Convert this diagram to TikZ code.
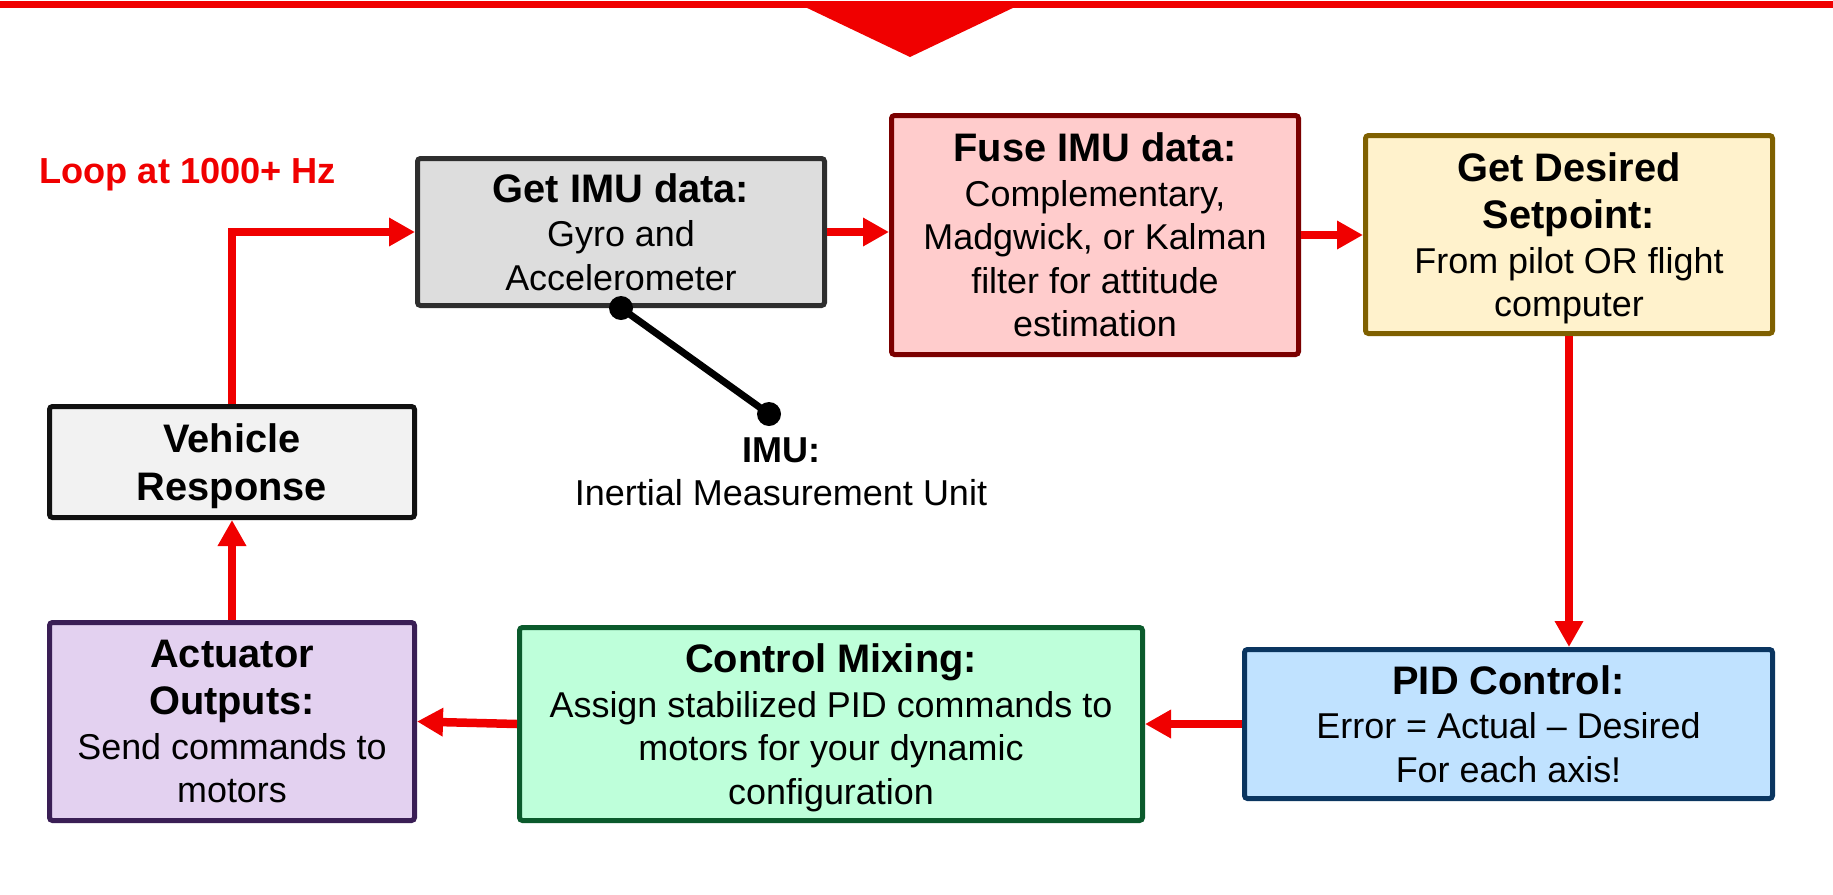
\documentclass[tikz,border=0pt]{standalone}
\usepackage{fontspec}
\setmainfont{Liberation Sans}
\usetikzlibrary{arrows.meta}
\definecolor{arrowred}{RGB}{240,0,0}
\definecolor{imufill}{RGB}{221,221,221}
\definecolor{imudraw}{RGB}{46,46,46}
\definecolor{fusefill}{RGB}{255,204,204}
\definecolor{fusedraw}{RGB}{123,0,0}
\definecolor{setfill}{RGB}{255,242,204}
\definecolor{setdraw}{RGB}{127,96,0}
\definecolor{pidfill}{RGB}{192,226,255}
\definecolor{piddraw}{RGB}{10,53,96}
\definecolor{mixfill}{RGB}{190,255,218}
\definecolor{mixdraw}{RGB}{11,90,44}
\definecolor{actfill}{RGB}{227,209,240}
\definecolor{actdraw}{RGB}{58,30,85}
\definecolor{vehfill}{RGB}{242,242,242}
\definecolor{vehdraw}{RGB}{17,17,17}
\newcommand\boxtitle{\fontsize{19.9}{24}\selectfont\bfseries}
\begin{document}
\begin{tikzpicture}[x=0.5pt,y=-0.5pt,
  flowbox/.style={draw, line width=2.5pt, rounded corners=1.5pt, align=center,
    text depth=0pt, inner sep=0pt, font=\fontsize{17.95}{21.75}\selectfont},
  redarrow/.style={draw=arrowred, line width=4.25pt, -{Triangle[length=13pt,width=13.5pt]}},
  pindot/.style={circle, fill=black, minimum size=12pt, inner sep=0pt}]
\useasboundingbox (0,0) rectangle (1833,895);
% top banner
\fill[arrowred] (0,0.5) rectangle (1833,7.5);
\fill[arrowred] (803,6) -- (1017,6) -- (910,57) -- cycle;
% boxes
\node[flowbox, fill=imufill, draw=imudraw, minimum width=203.5pt, minimum height=73.5pt] (imu) at (621,232)
  {{\boxtitle Get IMU data:}\\[0.5pt]Gyro and\\Accelerometer};
\node[flowbox, fill=fusefill, draw=fusedraw, minimum width=203.5pt, minimum height=119.5pt] (fuse) at (1095,235)
  {{\boxtitle Fuse IMU data:}\\[0.5pt]Complementary,\\Madgwick, or Kalman\\filter for attitude\\estimation};
\node[flowbox, fill=setfill, draw=setdraw, minimum width=203.5pt, minimum height=99pt] (setpoint) at (1569,234.5)
  {{\boxtitle Get Desired}\\[2pt]{\boxtitle Setpoint:}\\[0.5pt]From pilot OR flight\\computer};
\node[flowbox, fill=pidfill, draw=piddraw, minimum width=264pt, minimum height=74.5pt] (pid) at (1508.5,724)
  {{\boxtitle PID Control:}\\[0.5pt]Error = Actual – Desired\\For each axis!};
\node[flowbox, fill=mixfill, draw=mixdraw, minimum width=311.5pt, minimum height=96.5pt] (mixing) at (831,724)
  {{\boxtitle Control Mixing:}\\[0.5pt]Assign stabilized PID commands to\\motors for your dynamic\\configuration};
\node[flowbox, fill=actfill, draw=actdraw, minimum width=182.5pt, minimum height=99pt] (actuator) at (232,721.5)
  {{\boxtitle Actuator}\\[2pt]{\boxtitle Outputs:}\\[0.5pt]Send commands to\\motors};
\node[flowbox, fill=vehfill, draw=vehdraw, minimum width=182.5pt, minimum height=55.5pt] (vehicle) at (232,462)
  {{\boxtitle Vehicle}\\[2pt]{\boxtitle Response}};
% labels
\node[anchor=base west, inner sep=0pt, text=arrowred, font=\fontsize{18.1}{21}\selectfont\bfseries] (loop) at (39,183.5) {Loop at 1000+ Hz};
\node[align=center, text depth=0pt, inner sep=0pt, font=\fontsize{18}{21.5}\selectfont] (imulbl) at (781,471.5)
  {\textbf{IMU:}\\Inertial Measurement Unit};
% IMU pin
\node[pindot] (pinA) at (imu.south) {};
\node[pindot] (pinB) at (769,414) {};
\draw[line width=3.5pt] (pinA.center) -- (pinB.center);
% arrows
\draw[redarrow] (vehicle.north) |- (imu.west);
\draw[redarrow] (imu.east) -- (fuse.west |- imu.east);
\draw[redarrow] (fuse.east) -- (setpoint.west |- fuse.east);
\draw[redarrow, line width=3.75pt] (setpoint.south) -- (setpoint.south |- pid.north);
\draw[redarrow] (pid.west) -- (mixing.east |- pid.west);
\draw[redarrow] (mixing.west) -- (actuator.east);
\draw[redarrow] (actuator.north) -- (vehicle.south);
\end{tikzpicture}
\end{document}
